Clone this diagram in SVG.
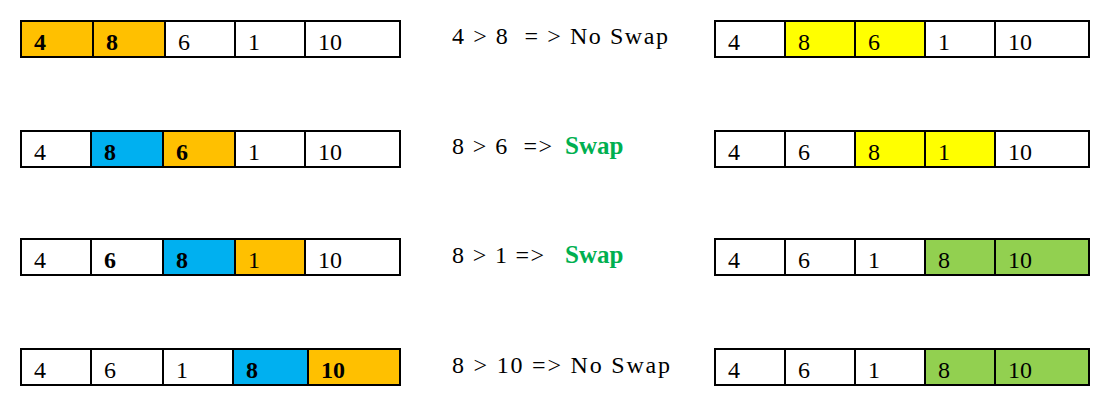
<svg xmlns="http://www.w3.org/2000/svg" width="1116" height="412" viewBox="0 0 1116 412">
<style>
rect{stroke:#000;stroke-width:2}
text{font-family:"Liberation Serif",serif;font-size:24px;fill:#000}
.b{font-weight:bold}
.o{fill:#FFC000}.c{fill:#00B0F0}.y{fill:#FFFF00}.g{fill:#92D050}.w{fill:#fff}
.s{fill:#00B050;font-weight:bold;font-size:25px}
</style>
<rect width="1116" height="412" fill="#fff" style="stroke:none"/>
<g id="L1"><rect class="o" x="21" y="21" width="72" height="36"/><rect class="o" x="93" y="21" width="72" height="36"/><rect class="w" x="165" y="21" width="70" height="36"/><rect class="w" x="235" y="21" width="70" height="36"/><rect class="w" x="305" y="21" width="95" height="36"/>
<text class="b" x="34" y="50">4</text><text class="b" x="106" y="50">8</text><text x="178" y="50">6</text><text x="248" y="50">1</text><text x="318" y="50">10</text></g>
<g id="L2"><rect class="w" x="21" y="131" width="70" height="36"/><rect class="c" x="91" y="131" width="72" height="36"/><rect class="o" x="163" y="131" width="72" height="36"/><rect class="w" x="235" y="131" width="70" height="36"/><rect class="w" x="305" y="131" width="95" height="36"/>
<text x="34" y="160">4</text><text class="b" x="104" y="160">8</text><text class="b" x="176" y="160">6</text><text x="248" y="160">1</text><text x="318" y="160">10</text></g>
<g id="L3"><rect class="w" x="21" y="239" width="70" height="36"/><rect class="w" x="91" y="239" width="72" height="36"/><rect class="c" x="163" y="239" width="72" height="36"/><rect class="o" x="235" y="239" width="70" height="36"/><rect class="w" x="305" y="239" width="95" height="36"/>
<text x="34" y="268">4</text><text class="b" x="104" y="268">6</text><text class="b" x="176" y="268">8</text><text x="248" y="268">1</text><text x="318" y="268">10</text></g>
<g id="L4"><rect class="w" x="21" y="349" width="70" height="36"/><rect class="w" x="91" y="349" width="72" height="36"/><rect class="w" x="163" y="349" width="70" height="36"/><rect class="c" x="233" y="349" width="75" height="36"/><rect class="o" x="308" y="349" width="92" height="36"/>
<text x="34" y="378">4</text><text x="104" y="378">6</text><text x="176" y="378">1</text><text class="b" x="246" y="378">8</text><text class="b" x="321" y="378">10</text></g>
<g id="M">
<text x="452" y="44" textLength="216" xml:space="preserve">4 &gt; 8  = &gt; No Swap</text>
<text x="452" y="154" textLength="100" xml:space="preserve">8 &gt; 6  =&gt;</text><text class="s" x="565" y="154">Swap</text>
<text x="452" y="263" textLength="92" xml:space="preserve">8 &gt; 1 =&gt;</text><text class="s" x="565" y="263">Swap</text>
<text x="452" y="373" textLength="218" xml:space="preserve">8 &gt; 10 =&gt; No Swap</text></g>
<g id="R1"><rect class="w" x="715" y="21" width="70" height="36"/><rect class="y" x="785" y="21" width="70" height="36"/><rect class="y" x="855" y="21" width="70" height="36"/><rect class="w" x="925" y="21" width="70" height="36"/><rect class="w" x="995" y="21" width="94" height="36"/>
<text x="728" y="50">4</text><text x="798" y="50">8</text><text x="868" y="50">6</text><text x="938" y="50">1</text><text x="1008" y="50">10</text></g>
<g id="R2"><rect class="w" x="715" y="131" width="70" height="36"/><rect class="w" x="785" y="131" width="70" height="36"/><rect class="y" x="855" y="131" width="70" height="36"/><rect class="y" x="925" y="131" width="70" height="36"/><rect class="w" x="995" y="131" width="94" height="36"/>
<text x="728" y="160">4</text><text x="798" y="160">6</text><text x="868" y="160">8</text><text x="938" y="160">1</text><text x="1008" y="160">10</text></g>
<g id="R3"><rect class="w" x="715" y="239" width="70" height="36"/><rect class="w" x="785" y="239" width="70" height="36"/><rect class="w" x="855" y="239" width="70" height="36"/><rect class="g" x="925" y="239" width="70" height="36"/><rect class="g" x="995" y="239" width="94" height="36"/>
<text x="728" y="268">4</text><text x="798" y="268">6</text><text x="868" y="268">1</text><text x="938" y="268">8</text><text x="1008" y="268">10</text></g>
<g id="R4"><rect class="w" x="715" y="349" width="70" height="36"/><rect class="w" x="785" y="349" width="70" height="36"/><rect class="w" x="855" y="349" width="70" height="36"/><rect class="g" x="925" y="349" width="70" height="36"/><rect class="g" x="995" y="349" width="94" height="36"/>
<text x="728" y="378">4</text><text x="798" y="378">6</text><text x="868" y="378">1</text><text x="938" y="378">8</text><text x="1008" y="378">10</text></g>
</svg>
